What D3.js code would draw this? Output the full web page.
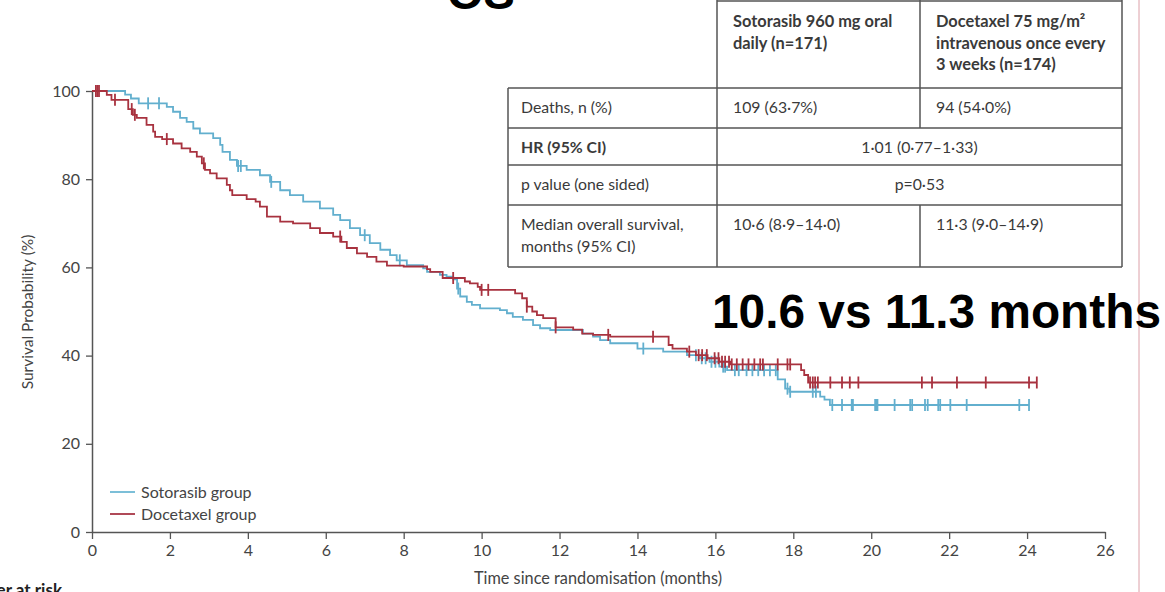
<!DOCTYPE html>
<html>
<head>
<meta charset="utf-8">
<script src="https://cdn.jsdelivr.net/npm/d3@7"></script>
<style>
  html, body { margin: 0; padding: 0; background: #fff; }
  svg { display: block; font-family: Lato, "Open Sans", sans-serif; }
</style>
</head>
<body>
<div id="chart"></div>
<script>
// Kaplan-Meier steps: time (months) and survival (%) after each drop
const sotoTime = [0, 0.85, 1.0, 1.2, 1.92, 2.08, 2.26, 2.43, 2.6, 2.77,
  3.11, 3.29, 3.35, 3.54, 3.72, 3.97, 4.31, 4.57, 4.83, 5.08,
  5.42, 5.85, 6.19, 6.37, 6.62, 6.88, 7.13, 7.4, 7.65, 7.82,
  8.08, 8.5, 8.6, 8.93, 9.1, 9.27, 9.37, 9.45, 9.62, 9.75,
  9.96, 10.47, 10.65, 10.8, 11.06, 11.32, 11.5, 11.76, 12.6, 12.86,
  13.04, 13.3, 14.0, 14.66, 15.27, 15.6, 15.85, 16.1, 16.3, 17.6,
  17.79, 17.9, 18.69, 18.8, 18.94];
const sotoSurv = [100, 99.2, 98.3, 97.2, 96.4, 95.3, 93.9, 93.0, 91.5, 90.4,
  89.3, 87.8, 86.2, 84.4, 83.0, 82.1, 80.9, 79.4, 77.5, 76.4,
  74.9, 73.4, 71.9, 70.7, 68.9, 67.3, 65.5, 64.0, 62.8, 61.6,
  60.5, 59.8, 59.0, 58.3, 57.9, 57.3, 55.2, 53.4, 52.2, 51.5,
  50.7, 50.3, 49.6, 48.8, 48.1, 46.9, 46.2, 45.8, 45.0, 44.3,
  43.5, 42.8, 41.6, 40.9, 40.1, 39.4, 38.6, 37.5, 36.7, 34.6,
  32.5, 31.8, 30.7, 30.0, 28.8];
const sotoCensor = [1.44, 1.72, 3.75, 3.82, 4.6, 7.0, 7.9, 9.4, 14.15,
  15.5, 15.65, 15.75, 15.9, 16.0, 16.2, 16.25, 16.5, 16.6, 16.8, 16.95, 17.1, 17.25, 17.4, 17.55,
  17.85, 17.92, 18.5, 18.58, 19.0, 19.25, 19.5, 19.53, 20.1, 20.13, 20.16, 20.6, 21.0, 21.05,
  21.38, 21.45, 21.72, 21.77, 22.03, 22.45, 23.8, 24.05];

const doceTime = [0, 0.38, 0.5, 0.93, 1.05, 1.15, 1.4, 1.57, 1.62, 1.8,
  2.08, 2.3, 2.52, 2.69, 2.82, 2.9, 3.03, 3.2, 3.46, 3.54,
  3.6, 3.97, 4.2, 4.31, 4.49, 4.83, 5.16, 5.6, 5.85, 6.19,
  6.4, 6.54, 6.8, 7.06, 7.3, 7.57, 8.0, 8.6, 8.68, 9.0,
  9.57, 9.7, 9.9, 9.96, 10.86, 11.04, 11.16, 11.3, 11.42, 11.58,
  11.9, 12.35, 12.58, 12.86, 13.3, 14.8, 14.9, 15.27, 15.5, 15.8,
  16.1, 16.38, 18.2, 18.28, 18.38];
const doceSurv = [100, 99.1, 98.0, 95.9, 94.6, 93.9, 92.3, 90.8, 89.6, 89.1,
  88.1, 87.0, 86.2, 85.1, 83.6, 82.1, 81.3, 80.2, 78.7, 77.5,
  76.4, 75.5, 74.9, 73.8, 71.5, 70.4, 70.0, 68.9, 67.8, 67.0,
  65.8, 64.4, 63.2, 62.4, 61.3, 60.4, 60.2, 59.6, 59.0, 57.6,
  56.8, 56.4, 55.6, 54.9, 54.1, 53.0, 51.1, 50.0, 49.2, 48.5,
  46.4, 45.9, 45.0, 44.7, 44.3, 42.4, 41.6, 40.9, 40.1, 39.4,
  38.6, 38.0, 36.7, 35.6, 33.9];
const doceCensor = [0.1, 0.14, 0.18, 0.59, 1.02, 1.1, 1.92, 2.87, 6.37, 9.27, 10.0, 10.17,
  11.16, 11.9, 13.25, 14.4, 15.33, 15.57, 15.66, 15.78, 15.98, 16.08, 16.17, 16.25, 16.35, 16.42,
  16.55, 16.7, 16.85, 17.0, 17.15, 17.22, 17.6, 17.85, 17.92, 18.43, 18.5, 18.56, 18.63,
  18.95, 19.25, 19.45, 19.67, 21.3, 21.56, 22.2, 22.94, 24.05, 24.25];

const xTicks = [0, 2, 4, 6, 8, 10, 12, 14, 16, 18, 20, 22, 24, 26];
const yTicks = [0, 20, 40, 60, 80, 100];
const groupNames = ["Sotorasib group", "Docetaxel group"];

const tableHead = [
  ["Sotorasib 960 mg oral", "daily (n=171)"],
  ["Docetaxel 75 mg/m²", "intravenous once every", "3 weeks (n=174)"]
];
const tableRowLabels = [["Deaths, n (%)"], ["HR (95% CI)"], ["p value (one sided)"], ["Median overall survival,", "months (95% CI)"]];
const tableSoto = ["109 (63·7%)", null, null, "10·6 (8·9–14·0)"];
const tableDoce = ["94 (54·0%)", null, null, "11·3 (9·0–14·9)"];
const tableMerged = [null, "1·01 (0·77–1·33)", "p=0·53", null];

const blue = "#62afce";
const red = "#a8323f";
const axisColor = "#555";
const textColor = "#444";

const width = 1165, height = 592;
const svg = d3.select("#chart").append("svg")
  .attr("width", width)
  .attr("height", height);

// slide border line on the right (behind everything)
svg.append("line")
  .attr("x1", 1139).attr("x2", 1139)
  .attr("y1", 0).attr("y2", height)
  .attr("stroke", "#dca0a8")
  .attr("stroke-width", 1);

const x = d3.scaleLinear().domain([0, 26]).range([92, 1105]);
const y = d3.scaleLinear().domain([0, 100]).range([532, 91]);

// axes
const yAxis = svg.append("g")
  .attr("transform", "translate(92,0)")
  .call(d3.axisLeft(y).tickValues(yTicks).tickSize(6).tickSizeOuter(0).tickPadding(6));
const xAxis = svg.append("g")
  .attr("transform", "translate(0,532)")
  .call(d3.axisBottom(x).tickValues(xTicks).tickSize(7).tickSizeOuter(0).tickPadding(6));
[xAxis, yAxis].forEach(g => {
  g.select(".domain").attr("stroke", axisColor).attr("stroke-width", 1.5);
  g.selectAll(".tick line").attr("stroke", axisColor).attr("stroke-width", 1.3);
  g.selectAll(".tick text").attr("fill", textColor).style("font-size", "16px")
    .style("font-family", "Lato, sans-serif");
});

svg.append("text")
  .attr("x", 598).attr("y", 584)
  .attr("text-anchor", "middle")
  .attr("fill", textColor)
  .style("font-size", "16.3px")
  .text("Time since randomisation (months)");

svg.append("text")
  .attr("transform", "translate(33,312) rotate(-90)")
  .attr("text-anchor", "middle")
  .attr("fill", textColor)
  .style("font-size", "15.5px")
  .text("Survival Probability (%)");

// survival step curves
function stepData(times, surv, endTime) {
  const pts = times.map((t, i) => [t, surv[i]]);
  pts.push([endTime, surv[surv.length - 1]]);
  return pts;
}
function survAt(times, surv, t) {
  let i = d3.bisectRight(times, t) - 1;
  return surv[Math.max(i, 0)];
}

const line = d3.line()
  .x(d => x(d[0]))
  .y(d => y(d[1]))
  .curve(d3.curveStepAfter);

const groups = [
  { time: sotoTime, surv: sotoSurv, censor: sotoCensor, color: blue },
  { time: doceTime, surv: doceSurv, censor: doceCensor, color: red }
];

groups.forEach(gr => {
  const endT = d3.max(gr.censor);
  svg.append("path")
    .datum(stepData(gr.time, gr.surv, endT))
    .attr("fill", "none")
    .attr("stroke", gr.color)
    .attr("stroke-width", 1.8)
    .attr("d", line);

  svg.append("g")
    .selectAll("line")
    .data(gr.censor)
    .enter()
    .append("line")
    .attr("x1", d => x(d))
    .attr("x2", d => x(d))
    .attr("y1", d => y(survAt(gr.time, gr.surv, d)) - 6)
    .attr("y2", d => y(survAt(gr.time, gr.surv, d)) + 6)
    .attr("stroke", gr.color)
    .attr("stroke-width", 1.8);
});

// legend
const legend = svg.append("g");
groupNames.forEach((name, i) => {
  const ly = 492 + i * 22;
  legend.append("line")
    .attr("x1", 110).attr("x2", 135)
    .attr("y1", ly).attr("y2", ly)
    .attr("stroke", i === 0 ? "#7cbfd8" : "#b04a58")
    .attr("stroke-width", 2);
  legend.append("text")
    .attr("x", 141).attr("y", ly)
    .attr("dy", "0.35em")
    .attr("fill", textColor)
    .style("font-size", "16px")
    .text(name);
});

// results table
const colX = [508, 717, 920, 1122];
const rowY = [0, 88, 128, 165, 205, 267];
const tbl = svg.append("g").attr("stroke", axisColor).attr("stroke-width", 1.5);
// header box (no left cell)
tbl.append("line").attr("x1", colX[1]).attr("x2", colX[3]).attr("y1", 1).attr("y2", 1);
[colX[1], colX[3]].forEach(cx => tbl.append("line").attr("x1", cx).attr("x2", cx).attr("y1", 0).attr("y2", rowY[5]));
tbl.append("line").attr("x1", colX[0]).attr("x2", colX[0]).attr("y1", rowY[1]).attr("y2", rowY[5]);
tbl.append("line").attr("x1", colX[2]).attr("x2", colX[2]).attr("y1", 0).attr("y2", rowY[2]);
tbl.append("line").attr("x1", colX[2]).attr("x2", colX[2]).attr("y1", rowY[4]).attr("y2", rowY[5]);
rowY.slice(1).forEach(ry => tbl.append("line").attr("x1", colX[0]).attr("x2", colX[3]).attr("y1", ry).attr("y2", ry));

const tText = svg.append("g").attr("fill", "#3a3a3a").style("font-size", "15.8px");
tableHead.forEach((lines, c) => {
  lines.forEach((s, k) => {
    tText.append("text")
      .attr("x", colX[c + 1] + 16).attr("y", 27 + k * 21.5)
      .style("font-weight", 700)
      .style("font-size", "16.4px")
      .text(s);
  });
});
tableRowLabels.forEach((lines, r) => {
  lines.forEach((s, k) => {
    tText.append("text")
      .attr("x", colX[0] + 13).attr("y", rowY[r + 1] + 25 + k * 22)
      .style("font-weight", r === 1 ? 700 : 400)
      .text(s);
  });
  if (tableSoto[r]) {
    tText.append("text").attr("x", colX[1] + 16).attr("y", rowY[r + 1] + 25).text(tableSoto[r]);
    tText.append("text").attr("x", colX[2] + 16).attr("y", rowY[r + 1] + 25).text(tableDoce[r]);
  }
  if (tableMerged[r]) {
    tText.append("text").attr("x", (colX[1] + colX[3]) / 2).attr("y", rowY[r + 1] + 25)
      .attr("text-anchor", "middle").text(tableMerged[r]);
  }
});

// slide overlays
svg.append("text")
  .attr("x", 712).attr("y", 328)
  .style("font-family", "'Liberation Sans', Arial, sans-serif")
  .style("font-weight", 700)
  .style("font-size", "47.8px")
  .attr("fill", "#000")
  .text("10.6 vs 11.3 months");

svg.append("text")
  .attr("x", 447).attr("y", 9)
  .style("font-family", "'Liberation Sans', Arial, sans-serif")
  .style("font-weight", 700)
  .style("font-size", "47px")
  .attr("fill", "#000")
  .text("OS");

svg.append("text")
  .attr("x", 62).attr("y", 596)
  .attr("text-anchor", "end")
  .style("font-weight", 700)
  .style("font-size", "17px")
  .attr("fill", "#222")
  .text("Number at risk");
</script>
</body>
</html>
